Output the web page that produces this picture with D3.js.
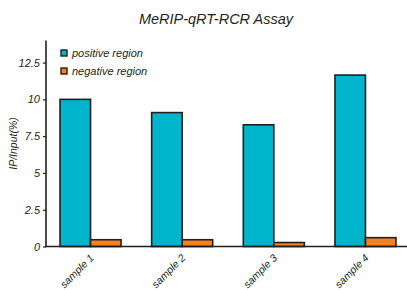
<!DOCTYPE html>
<html>
<head>
<meta charset="utf-8">
<script src="https://cdn.jsdelivr.net/npm/d3@7"></script>
<style>
  body { margin: 0; background: #fff; }
  svg text { font-family: "Liberation Sans", Arial, sans-serif; font-style: italic; fill: #231f20; }
</style>
</head>
<body>
<div id="chart"></div>
<script>
const samples = ['sample 1', 'sample 2', 'sample 3', 'sample 4'];
const seriesNames = ['positive region', 'negative region'];
const positiveValues = [10.0, 9.1, 8.27, 11.65];
const negativeValues = [0.46, 0.46, 0.27, 0.6];
const yTicks = [0, 2.5, 5, 7.5, 10, 12.5];

const colors = {
    positive: '#00b4cc',
    negative: '#f58220',
    ink: '#231f20'
};

const width = 407, height = 290;

const svg = d3.select('#chart')
    .append('svg')
    .attr('width', width)
    .attr('height', height);

const y = d3.scaleLinear()
    .domain([0, 14])
    .range([246.5, 40.5]);

const x = d3.scaleBand()
    .domain(samples)
    .range([46, 410])
    .paddingInner(0.334)
    .paddingOuter(0.153);

const xSub = d3.scaleBand()
    .domain(seriesNames)
    .range([0, x.bandwidth()]);

const rows = samples.map((s, i) => ({
    sample: s,
    values: [
        { name: seriesNames[0], value: positiveValues[i], color: colors.positive },
        { name: seriesNames[1], value: negativeValues[i], color: colors.negative }
    ]
}));

// bars
const groups = svg.append('g')
    .selectAll('g')
    .data(rows)
    .join('g')
    .attr('transform', d => `translate(${x(d.sample)},0)`);

groups.selectAll('rect')
    .data(d => d.values)
    .join('rect')
    .attr('x', d => xSub(d.name))
    .attr('y', d => y(d.value))
    .attr('width', xSub.bandwidth())
    .attr('height', d => y(0) - y(d.value))
    .attr('fill', d => d.color)
    .attr('stroke', colors.ink)
    .attr('stroke-width', 1.6);

// y axis
const yAxis = svg.append('g')
    .attr('transform', 'translate(46,0)')
    .call(d3.axisLeft(y).tickValues(yTicks).tickSize(3).tickPadding(3).tickFormat(d3.format('')));
yAxis.select('.domain')
    .attr('d', `M0,${y(14)}V${y(0)}`)
    .attr('stroke', colors.ink)
    .attr('stroke-width', 1.6);
yAxis.selectAll('.tick line').attr('stroke', colors.ink).attr('stroke-width', 1.2);
yAxis.selectAll('.tick text').style('font-size', '11px');

// x axis
const xAxis = svg.append('g')
    .attr('transform', `translate(0,${y(0)})`)
    .call(d3.axisBottom(x).tickSize(0).tickPadding(0));
xAxis.select('.domain')
    .attr('d', `M45,0H407`)
    .attr('stroke', colors.ink)
    .attr('stroke-width', 1.6);
xAxis.selectAll('.tick text')
    .style('font-size', '10.5px')
    .attr('text-anchor', 'end')
    .attr('dy', 0)
    .attr('transform', 'translate(4,12) rotate(-45)');

// axis title
svg.append('text')
    .attr('transform', `translate(17,${(y(0) + y(14)) / 2}) rotate(-90)`)
    .attr('text-anchor', 'middle')
    .style('font-size', '10.5px')
    .text('IP/Input(%)');

// title
svg.append('text')
    .attr('x', 216)
    .attr('y', 24)
    .attr('text-anchor', 'middle')
    .style('font-size', '14.5px')
    .text('MeRIP-qRT-RCR Assay');

// legend
const legend = svg.append('g')
    .attr('transform', 'translate(61,50)')
    .selectAll('g')
    .data([
        { name: seriesNames[0], color: colors.positive },
        { name: seriesNames[1], color: colors.negative }
    ])
    .join('g')
    .attr('transform', (d, i) => `translate(0,${i * 18})`);
legend.append('rect')
    .attr('width', 6)
    .attr('height', 6)
    .attr('fill', d => d.color)
    .attr('stroke', colors.ink)
    .attr('stroke-width', 1.4);
legend.append('text')
    .attr('x', 11)
    .attr('y', 7)
    .style('font-size', '11px')
    .text(d => d.name);
</script>
</body>
</html>
